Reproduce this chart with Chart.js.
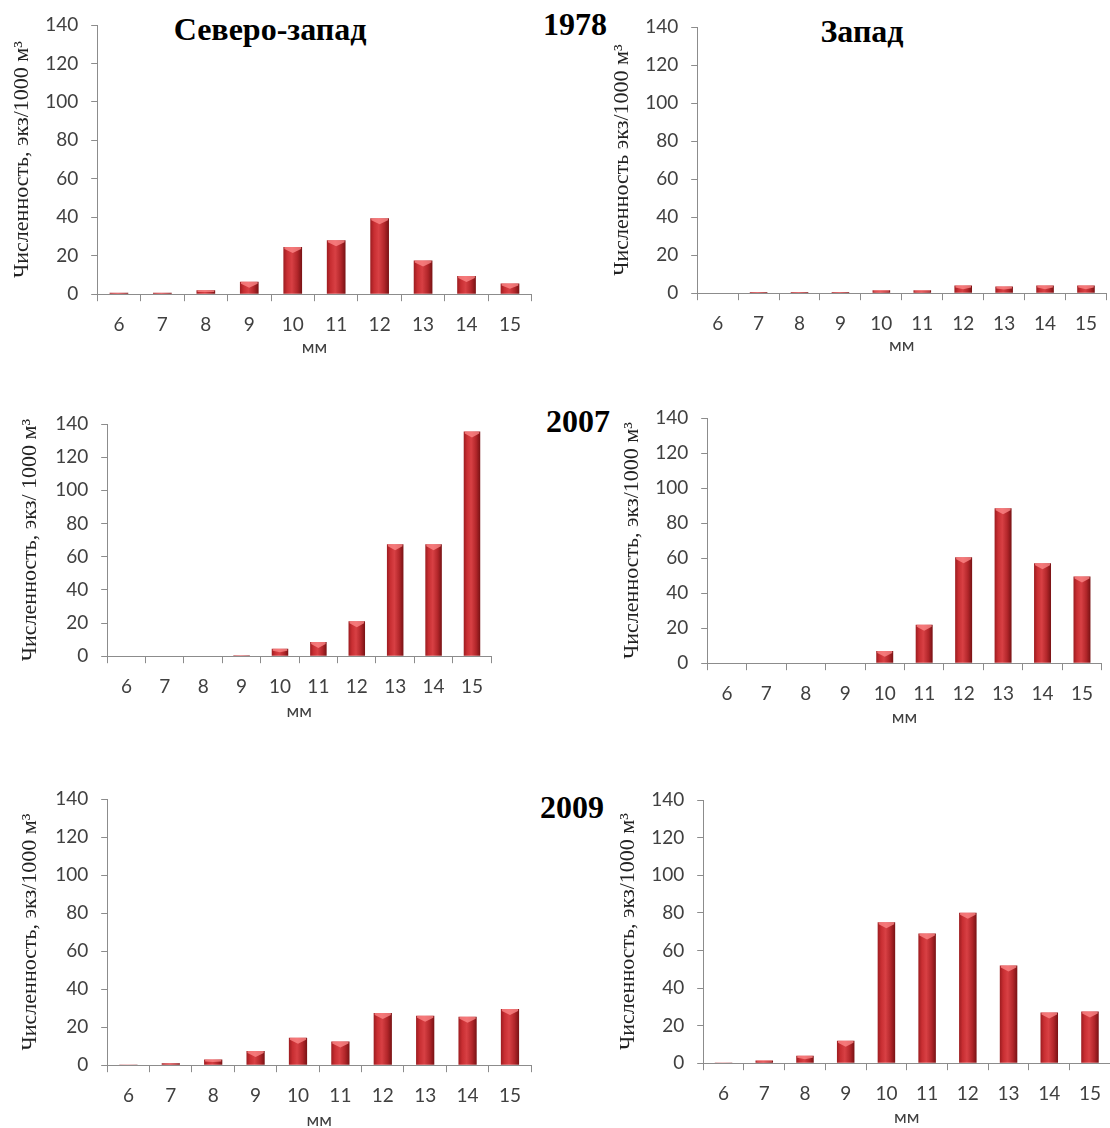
<!DOCTYPE html>
<html><head><meta charset="utf-8">
<script src="https://cdn.jsdelivr.net/npm/chart.js@4.4.1/dist/chart.umd.min.js"></script>
<style>
body{margin:0;width:1110px;height:1128px;background:#fff;position:relative;overflow:hidden}
canvas{position:absolute}
.t{position:absolute;font-family:"Liberation Serif","DejaVu Serif",serif;font-weight:bold;font-size:32px;color:#000;white-space:nowrap;transform:translate(-50%,-50%);line-height:1}
</style></head><body>
<div class="t" style="left:270px;top:29px">Северо-запад</div>
<div class="t" style="left:862px;top:31px">Запад</div>
<div class="t" style="left:575px;top:24px">1978</div>
<div class="t" style="left:578px;top:421px">2007</div>
<div class="t" style="left:572px;top:807px">2009</div>
<script>
// ---- data ----
const sizes = ['6','7','8','9','10','11','12','13','14','15'];
const nw1978 = [0.8, 0.8, 2, 6.5, 24.5, 28, 39.5, 17.5, 9.5, 5.5];
const w1978  = [0, 0.6, 0.6, 0.6, 1.5, 1.5, 4, 3.5, 4, 4];
const nw2007 = [0.3, 0, 0.3, 0.5, 4.5, 8.5, 21, 67.5, 67.5, 135.5];
const w2007  = [0, 0, 0.3, 0.3, 7, 22, 60.5, 88.5, 57, 49.5];
const nw2009 = [0.4, 1, 3, 7.5, 14.5, 12.5, 27.5, 26, 25.5, 29.5];
const w2009  = [0.4, 1.5, 4, 12, 75, 69, 80, 52, 27, 27.5];
const yMin = 0, yMax = 140, yStep = 20;
const xTitle = 'мм';
const yTitles = [
  'Численность, экз/1000 м³',
  'Численность экз/1000 м³',
  'Численность, экз/ 1000 м³',
  'Численность, экз/1000 м³',
  'Численность, экз/1000 м³',
  'Численность, экз/1000 м³'
];
const seriesList = [nw1978, w1978, nw2007, w2007, nw2009, w2009];

// ---- layout (pixel geometry of each panel) ----
const layoutList = [
  {ax:97,  top:25,  zero:294,  right:533,  mm:347,  yt:22},
  {ax:697, top:27,  zero:293,  right:1109, mm:345,  yt:622},
  {ax:107, top:424, zero:656,  right:495,  mm:711,  yt:30},
  {ax:707, top:418, zero:663,  right:1105, mm:717,  yt:632},
  {ax:107, top:799, zero:1065, right:533,  mm:1120, yt:30},
  {ax:703, top:800, zero:1063, right:1113, mm:1117, yt:628}
];

const BAR_PCT = 0.43;
const axisColor = '#8c8c8c';
const tickFont = {family:'Lato, "Open Sans", sans-serif', size:19};
const yTitleFont = {family:'"Liberation Serif", serif', size:22};
const xTitleFont = {family:'Lato, "Open Sans", sans-serif', size:18};
const Y_TICK_PAD = 13;

function barFill(c){
  const chart = c.chart;
  if(!chart.chartArea || c.type !== 'data') return '#c0282d';
  const xs = chart.scales.x;
  const bw = xs.width / sizes.length * BAR_PCT;
  const cx = xs.getPixelForValue(c.dataIndex);
  const g = chart.ctx.createLinearGradient(cx - bw/2, 0, cx + bw/2, 0);
  g.addColorStop(0, '#9c1c20');
  g.addColorStop(0.2, '#c82e32');
  g.addColorStop(0.45, '#d84044');
  g.addColorStop(0.75, '#b2262a');
  g.addColorStop(1, '#781214');
  return g;
}

const capPlugin = {
  id:'cap',
  afterDatasetsDraw(chart){
    const ctx = chart.ctx;
    chart.getDatasetMeta(0).data.forEach(el => {
      const h = el.base - el.y;
      if (h < 2) return;
      const l = el.x - el.width/2, r = el.x + el.width/2, t = el.y;
      const d = Math.min(6, h/2);
      ctx.save();
      ctx.fillStyle = 'rgba(255,140,140,0.75)';
      ctx.beginPath();
      ctx.moveTo(l+1, t); ctx.lineTo(r-1, t); ctx.lineTo(r-1, t+Math.min(2,d)); ctx.lineTo(el.x, t+d); ctx.lineTo(l+1, t+Math.min(2,d));
      ctx.closePath(); ctx.fill();
      ctx.restore();
    });
  }
};

const PAD_TOP = Math.ceil(tickFont.size * 1.2 / 2 + Y_TICK_PAD) + 2;
const TITLE_LH = yTitleFont.size * 1.2;
const XT_LH = xTitleFont.size * 1.2;

layoutList.forEach((L, i) => {
  const yW = L.ax - L.yt + TITLE_LH/2;
  const xH = L.mm - L.zero + XT_LH/2;
  const cv = document.createElement('canvas');
  const w = Math.round(yW + L.right - L.ax);
  const h = Math.round(PAD_TOP + L.zero - L.top + xH);
  cv.width = w; cv.height = h;
  cv.style.left = Math.round(L.ax - yW) + 'px';
  cv.style.top = (L.top - PAD_TOP) + 'px';
  cv.style.width = w + 'px'; cv.style.height = h + 'px';
  document.body.appendChild(cv);
  new Chart(cv, {
    type:'bar',
    data:{labels:sizes, datasets:[{data:seriesList[i], backgroundColor:barFill, borderWidth:0,
      barPercentage:BAR_PCT, categoryPercentage:1}]},
    options:{
      responsive:false, animation:false, devicePixelRatio:1,
      layout:{padding:{top:PAD_TOP, left:0, right:0, bottom:0}},
      plugins:{legend:{display:false}, tooltip:{enabled:false}},
      scales:{
        x:{
          grid:{display:true, drawOnChartArea:false, offset:true, tickLength:7, color:axisColor},
          border:{display:true, color:axisColor},
          ticks:{font:tickFont, color:'#404040', padding:12, maxRotation:0},
          title:{display:true, text:xTitle, font:xTitleFont, color:'#404040', padding:0},
          afterFit(s){ s.height = xH; }
        },
        y:{
          min:yMin, max:yMax,
          grid:{display:true, drawOnChartArea:false, tickLength:6, color:axisColor},
          border:{display:true, color:axisColor},
          ticks:{stepSize:yStep, font:tickFont, color:'#404040', padding:Y_TICK_PAD},
          title:{display:true, text:yTitles[i], font:yTitleFont, color:'#222', padding:0},
          afterFit(s){ s.width = yW; }
        }
      }
    },
    plugins:[capPlugin]
  });
});
</script>
</body></html>
